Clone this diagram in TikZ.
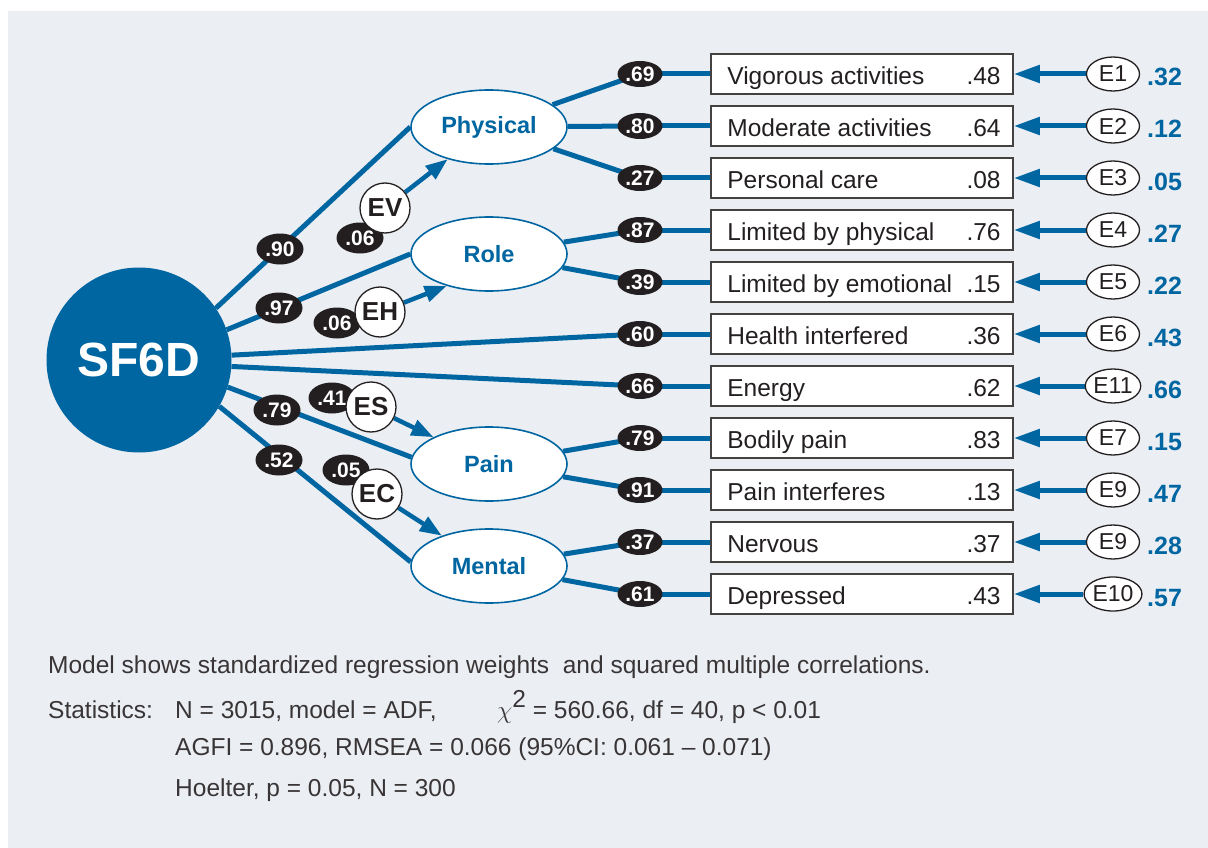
\documentclass[tikz,border=0pt]{standalone}
\usepackage{fontspec}
\setmainfont{Liberation Sans}
\usetikzlibrary{arrows.meta,shapes.geometric}
\definecolor{sfblue}{RGB}{0,102,161}
\definecolor{bggray}{RGB}{235,238,243}
\definecolor{ink}{RGB}{35,31,32}
\pgfdeclarelayer{back}
\pgfdeclarelayer{lines}
\pgfsetlayers{back,lines,main}
\begin{document}
\begin{tikzpicture}[x=1pt,y=-1pt,
  conn/.style={draw=sfblue,line width=5pt},
  tip/.style={-{Triangle[length=26pt,width=17pt]}},
  dtip/.style={-{Triangle[length=22pt,width=16pt]}},
  sfc/.style={circle,fill=sfblue,minimum size=185pt,inner sep=0pt,text=white,font=\fontsize{48}{48}\selectfont\bfseries},
  lat/.style={ellipse,draw=sfblue,line width=1.6pt,fill=white,minimum width=156pt,minimum height=74pt,inner sep=0pt,text=sfblue,font=\fontsize{23.5}{23.5}\selectfont\bfseries},
  badge/.style={ellipse,fill=ink,minimum width=45pt,minimum height=26pt,inner sep=0pt,text=white,font=\fontsize{21}{21}\selectfont\bfseries},
  lbadge/.style={badge,minimum width=47pt,minimum height=31pt},
  obs/.style={rectangle,draw=ink!85,line width=1.6pt,fill=white,minimum width=302pt,minimum height=40pt,inner sep=0pt},
  obstext/.style={inner sep=0pt,text=ink,font=\fontsize{24.5}{24.5}\selectfont},
  err/.style={ellipse,draw=ink,line width=1.3pt,fill=white,minimum width=53pt,minimum height=34pt,inner sep=0pt,text=ink,font=\fontsize{23}{23}\selectfont},
  errval/.style={inner sep=0pt,text=sfblue,font=\fontsize{25}{25}\selectfont\bfseries},
  dist/.style={circle,draw=ink,line width=1.3pt,fill=white,minimum size=50pt,inner sep=0pt,text=ink,font=\fontsize{26}{26}\selectfont\bfseries},
  note/.style={inner sep=0pt,text=ink!90,font=\fontsize{24.5}{24.5}\selectfont}
]
\useasboundingbox (0,0) rectangle (1208,848);
\begin{pgfonlayer}{back}
\fill[white] (0,0) rectangle (1208,848);
\fill[bggray] (8,11) rectangle (1208,848);
\end{pgfonlayer}

\node[sfc] (sf) at (139,360) {SF6D};

\node[lat] (phys) at (489,127) {Physical};
\node[lat] (role) at (489,254) {Role};
\node[lat] (pain) at (489,464) {Pain};
\node[lat] (ment) at (489,566) {Mental};

\foreach \i/\y/\lab/\val/\bw/\en/\ev in {
  1/74/Vigorous activities/.48/.69/E1/.32,
  2/126/Moderate activities/.64/.80/E2/.12,
  3/178/Personal care/.08/.27/E3/.05,
  4/230/Limited by physical/.76/.87/E4/.27,
  5/282/Limited by emotional/.15/.39/E5/.22,
  6/334/Health interfered/.36/.60/E6/.43,
  7/386/Energy/.62/.66/E11/.66,
  8/438/Bodily pain/.83/.79/E7/.15,
  9/490/Pain interferes/.13/.91/E9/.47,
  10/542/Nervous/.37/.37/E9/.28,
  11/594/Depressed/.43/.61/E10/.57}{
  \node[obs] (b\i) at (862,\y) {};
  \node[obstext,anchor=base west] (bl\i) at ([xshift=17pt,yshift=-10.5pt]b\i.west) {\lab};
  \node[obstext,anchor=base east] (bv\i) at ([xshift=-13pt,yshift=-10.5pt]b\i.east) {\val};
  \node[badge] (a\i) at (640,\y) {\bw};
  \node[err] (e\i) at (1113,\y) {\en};
  \node[errval,anchor=base west] (ev\i) at (1147,\y+12) {\ev};
}

% left loadings
\node[lbadge] (l1) at (280,249) {.90};
\node[lbadge] (l2) at (279,308) {.97};
\node[lbadge] (l3) at (277,410) {.79};
\node[lbadge] (l4) at (279,460) {.52};
% disturbances
\node[lbadge] (d1b) at (360,238) {.06};
\node[lbadge] (d2b) at (337,323) {.06};
\node[lbadge] (d3b) at (332,398) {.41};
\node[lbadge] (d4b) at (346,470) {.05};
\node[dist] (dv) at (385,208) {EV};
\node[dist] (dh) at (380,312) {EH};
\node[dist] (ds) at (371,407) {ES};
\node[dist] (dc) at (377,494) {EC};

\begin{pgfonlayer}{lines}
\foreach \i in {1,...,11} {\draw[conn] (a\i.center) -- (b\i.west);}
\foreach \i in {1,...,11} {\draw[conn,tip] (e\i) -- (b\i.east);}
\draw[conn] (phys) -- (a1.center);
\draw[conn] (phys) -- (a2.center);
\draw[conn] (phys) -- (a3.center);
\draw[conn] (role) -- (a4.center);
\draw[conn] (role) -- (a5.center);
\draw[conn] (pain) -- (a8.center);
\draw[conn] (pain) -- (a9.center);
\draw[conn] (ment) -- (a10.center);
\draw[conn] (ment) -- (a11.center);
\draw[conn] (sf.34.5) -- (phys.west);
\draw[conn] (sf.19.3) -- (role.west);
\draw[conn] (sf.3.7) -- (a6.center);
\draw[conn] (sf.-4.3) -- (a7.center);
\draw[conn] (sf.-17.3) -- (pain.175);
\draw[conn] (sf.-30.6) -- (ment.177);
\draw[conn,line width=4.5pt,dtip] (dv) -- (phys);
\draw[conn,line width=4.5pt,dtip] (dh) -- (role.217);
\draw[conn,line width=4.5pt,dtip] (ds) -- (pain);
\draw[conn,line width=4.5pt,dtip] (dc) -- (ment);
\end{pgfonlayer}

% notes
\node[note,anchor=base west] (n1) at (48,673) {Model shows standardized regression weights\ \ and squared multiple correlations.};
\node[note,anchor=base west] (n2) at (48,718) {Statistics:};
\node[note,anchor=base west] (n3) at (175,718) {N = 3015, model = ADF,};
\node[note,anchor=base west] (n4) at (497,718) {{\fontsize{28}{28}\selectfont$\chi$}\raisebox{11pt}{2} = 560.66, df = 40, p < 0.01};
\node[note,anchor=base west] (n5) at (175,755) {AGFI = 0.896, RMSEA = 0.066 (95\%CI: 0.061 – 0.071)};
\node[note,anchor=base west] (n6) at (175,796) {Hoelter, p = 0.05, N = 300};
\end{tikzpicture}
\end{document}
